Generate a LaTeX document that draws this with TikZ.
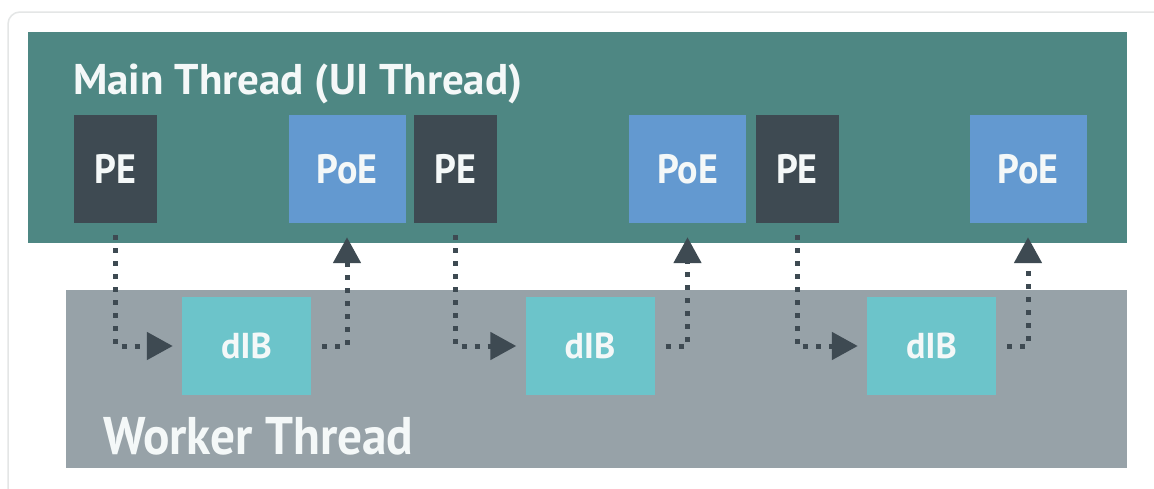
\documentclass[tikz,border=0pt]{standalone}
\usepackage{fontspec}
\setmainfont{PT Sans}
\newfontfamily\narrowfont{PT Sans}[FakeStretch=0.93]
\usetikzlibrary{arrows.meta}

\definecolor{mainband}{HTML}{4E8783}
\definecolor{workerband}{HTML}{97A2A8}
\definecolor{pedark}{HTML}{3E4A52}
\definecolor{poeblue}{HTML}{6399D0}
\definecolor{dibcyan}{HTML}{6CC4CA}
\definecolor{labelwhite}{HTML}{F4F8F8}
\definecolor{cardedge}{HTML}{E4E6E6}

\begin{document}
\begin{tikzpicture}[x=1pt,y=-1pt,
  taskbox/.style={inner sep=0pt, minimum height=108pt, text=labelwhite,
    font=\narrowfont\bfseries\fontsize{41}{41}\selectfont},
  pebox/.style={taskbox, fill=pedark, minimum width=83pt},
  poebox/.style={taskbox, fill=poeblue, minimum width=117pt},
  dibbox/.style={inner sep=0pt, fill=dibcyan, minimum width=129pt,
    minimum height=98pt, text=labelwhite,
    font=\bfseries\fontsize{36}{36}\selectfont},
  flow/.style={draw=pedark, line width=5pt, dash pattern=on 5pt off 8pt,
    -{Triangle[length=26pt,width=27pt]}},
  bandlabel/.style={inner sep=0pt, anchor=base west, text=labelwhite}]

% page and card
\useasboundingbox (0,0) rectangle (1154,488);
\fill[white] (0,0) rectangle (1154,488);
\draw[cardedge, line width=1.5pt, rounded corners=12pt] (8,12) rectangle (1190,520);

% thread bands
\fill[mainband] (28,32) rectangle (1127,243);
\fill[workerband] (66,290) rectangle (1127,468);

\node[bandlabel, font=\bfseries\fontsize{43}{43}\selectfont] (mainlabel) at (73,94) {Main Thread (UI Thread)};
\node[bandlabel, font=\narrowfont\bfseries\fontsize{53}{53}\selectfont] (workerlabel) at (103,454) {Worker Thread};

% main thread tasks
\node[pebox]  (pe1)  at (115.5,169) {PE};
\node[poebox] (poe1) at (347,169)   {PoE};
\node[pebox]  (pe2)  at (455.5,169) {PE};
\node[poebox] (poe2) at (687.5,169) {PoE};
\node[pebox]  (pe3)  at (797,169)   {PE};
\node[poebox] (poe3) at (1028,169)  {PoE};

% worker thread tasks
\node[dibbox] (dib1) at (246.5,346) {dIB};
\node[dibbox] (dib2) at (590,346)   {dIB};
\node[dibbox] (dib3) at (931.5,346) {dIB};

% hand-offs between threads
\foreach \i in {1,2,3}{
  \draw[flow] ([yshift=-12pt]pe\i.south) |- ([xshift=-9pt]dib\i.west);
  \draw[flow] ([xshift=11pt]dib\i.east) -| ([yshift=-14pt]poe\i.south);
}
\end{tikzpicture}
\end{document}
